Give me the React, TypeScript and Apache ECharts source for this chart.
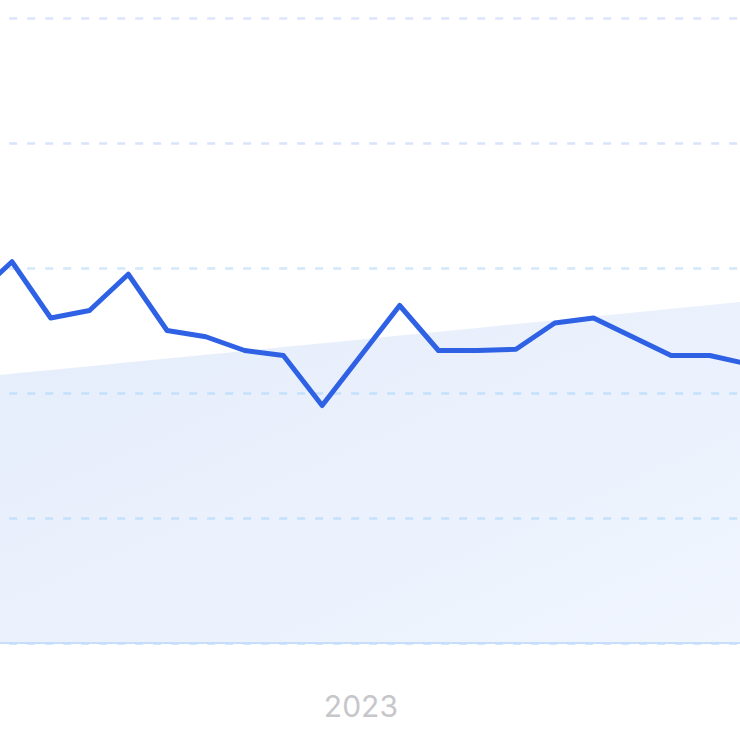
import React, { useEffect, useRef } from "react";
import * as echarts from "echarts";

const months: string[] = [
  "2022-03", "2022-04", "2022-05", "2022-06", "2022-07", "2022-08", "2022-09",
  "2022-10", "2022-11", "2022-12", "2023-01", "2023-02", "2023-03", "2023-04",
  "2023-05", "2023-06", "2023-07", "2023-08", "2023-09", "2023-10", "2023-11",
];

const values: number[] = [
  27.6, 30.5, 26.0, 26.6, 29.5, 25.0, 24.5, 23.4, 23.0, 19.0, 23.0,
  27.0, 23.4, 23.4, 23.5, 25.6, 26.0, 24.5, 23.0, 23.0, 22.3,
];

const trend: number[] = [
  21.23, 21.54, 21.84, 22.15, 22.46, 22.76, 23.07, 23.37, 23.68, 23.99, 24.29,
  24.6, 24.9, 25.21, 25.52, 25.82, 26.13, 26.43, 26.74, 27.05, 27.35,
];

const yMin = 0;
const yMax = 50;
const yStep = 10;

export default function App() {
  const ref = useRef<HTMLDivElement>(null);
  useEffect(() => {
    if (!ref.current) return;
    const chart = echarts.init(ref.current, undefined, { renderer: "svg" });
    chart.setOption({
      animation: false,
      grid: {
        left: -26.8,
        right: -8.6,
        top: 18,
        bottom: 97,
        outerBoundsMode: "none",
      },
      xAxis: {
        type: "category",
        data: months,
        boundaryGap: false,
        axisLine: { show: true, lineStyle: { color: "#c6defb", width: 2 } },
        axisTick: { show: false },
        axisLabel: {
          interval: (_i: number, v: string) => v.endsWith("-01"),
          formatter: (v: string) => v.slice(0, 4),
          color: "#c6c6cb",
          fontSize: 30,
          fontFamily: "Inter, 'Noto Sans', sans-serif",
          margin: 48,
        },
        splitLine: { show: false },
        z: 5,
      },
      yAxis: {
        type: "value",
        min: yMin,
        max: yMax,
        interval: yStep,
        z: 3,
        axisLine: { show: false },
        axisTick: { show: false },
        axisLabel: { show: false },
        splitLine: {
          show: true,
          lineStyle: {
            color: ["#c6defb", "#c4e1fb", "#c4e1fb", "#d3e7fb", "#d9e4fc", "#dbe5fc"],
            width: 2.5,
            type: [8, 10],
          },
        },
      },
      series: [
        {
          type: "line",
          data: trend,
          symbol: "none",
          lineStyle: { width: 0 },
          areaStyle: {
            opacity: 1,
            color: new echarts.graphic.LinearGradient(0, 0, 1, 1, [
              { offset: 0, color: "#e5edfb" },
              { offset: 1, color: "#f0f5fe" },
            ]),
          },
          z: 1,
          silent: true,
        },
        {
          type: "line",
          data: values,
          symbol: "none",
          lineStyle: { width: 5, color: "#2e61e4", join: "round", cap: "round" },
          z: 6,
        },
      ],
    });
    return () => chart.dispose();
  }, []);
  return (
    <div
      ref={ref}
      style={{ position: "fixed", left: 0, top: 0, width: 740, height: 740, background: "#fff" }}
    />
  );
}
